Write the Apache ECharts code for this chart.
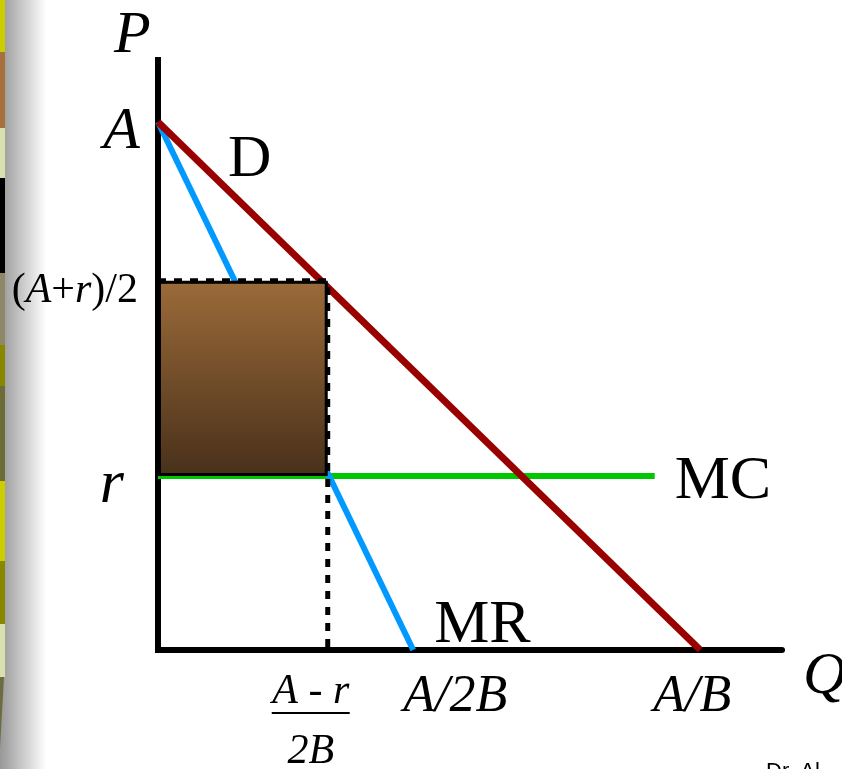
<!DOCTYPE html>
<html>
<head>
<meta charset="utf-8">
<script src="https://cdn.jsdelivr.net/npm/echarts@6/dist/echarts.min.js"></script>
<style>
  html, body { margin: 0; padding: 0; background: #fff; }
  #chart { width: 842px; height: 769px; }
</style>
</head>
<body>
<div id="chart"></div>
<script>
// values (axis units 0..100)
const priceLevels = [89.5, 62.6, 29.5];
const priceLabels = ['A', '(A+r)/2', 'r'];
const qtyLevels = [27.2, 40.9, 86.9];
const qtyLabels = ['(A-r)/2B', 'A/2B', 'A/B'];
const demand = [[0, 89.5], [86.9, 0]];
const marginalRevenue = [[0, 89.5], [40.9, 0]];
const marginalCost = [[0, 29.5], [79.6, 29.5]];
const profitBox = [[0, 62.6, 27.2, 29.5]];
const guide = [[0, 62.6], [27.2, 62.6], [27.2, 0]];

const SERIF = '"Liberation Serif", "Times New Roman", serif';

const chart = echarts.init(document.getElementById('chart'));

const yRich = {
  bi: { fontFamily: SERIF, fontStyle: 'italic', fontSize: 60, color: '#000' },
  ri: { fontFamily: SERIF, fontStyle: 'italic', fontSize: 62, color: '#000' },
  s: { fontFamily: SERIF, fontSize: 42, color: '#000' },
  si: { fontFamily: SERIF, fontStyle: 'italic', fontSize: 42, color: '#000' },
  g2: { width: 2, fontSize: 4 },
  g16: { width: 16, fontSize: 4 }
};
const yText = {
  'A': '{bi|A}',
  '(A+r)/2': '{s|(}{si|A}{s|+}{si|r}{s|)/2}{g2| }',
  'r': '{ri|r}{g16| }'
};

const xRich = {
  n: { fontFamily: SERIF, fontStyle: 'italic', fontSize: 42, lineHeight: 40, color: '#000' },
  d: { fontFamily: SERIF, fontStyle: 'italic', fontSize: 42, lineHeight: 76, color: '#000' },
  bar: { width: 78, height: 2, lineHeight: 2, fontSize: 1, backgroundColor: '#000' },
  gb: { width: 34, height: 2, lineHeight: 2, fontSize: 1 },
  g34: { width: 34, fontSize: 4 },
  g84: { width: 84, fontSize: 4 },
  g16: { width: 16, fontSize: 4 },
  i: { fontFamily: SERIF, fontStyle: 'italic', fontSize: 52, lineHeight: 50, color: '#000' },
  u: { fontFamily: SERIF, fontStyle: 'italic', fontSize: 52, lineHeight: 50, color: '#000' }
};
const xText = {
  '(A-r)/2B': '{n|A - r}{g34| }\n{bar| }{gb| }\n{d|2B}{g34| }',
  'A/2B': '{g84| }{i|A}{u|/2}{i|B}',
  'A/B': '{i|A}{u|/}{i|B}{g16| }'
};

function pick(levels, labels, v) {
  const k = levels.findIndex(l => Math.abs(l - v) < 1e-6);
  return k < 0 ? '' : labels[k];
}

// the fraction label sits on its own (invisible) axis so it never competes with A/2B
function quantityAxis(values, showLine) {
  return {
    type: 'value',
    position: 'bottom',
    min: 0,
    max: 100,
    axisLine: { show: showLine, onZero: false, lineStyle: { color: '#000', width: 6 } },
    axisTick: { show: false },
    splitLine: { show: false },
    axisLabel: {
      customValues: values,
      margin: 22,
      hideOverlap: false,
      formatter: v => xText[pick(qtyLevels, qtyLabels, v)] || '',
      rich: xRich
    }
  };
}

chart.setOption({
  animation: false,
  grid: { left: 158, top: 60, width: 624, height: 590, containLabel: false, outerBoundsMode: 'none' },
  xAxis: [
    quantityAxis(qtyLevels.slice(1), true),
    quantityAxis(qtyLevels.slice(0, 1), false)
  ],
  yAxis: {
    type: 'value',
    min: 0,
    max: 100,
    axisLine: { lineStyle: { color: '#000', width: 6, cap: 'square' } },
    axisTick: { show: false },
    splitLine: { show: false },
    axisLabel: {
      customValues: priceLevels,
      margin: 18,
      padding: [20, 0, 0, 0],
      hideOverlap: false,
      formatter: v => yText[pick(priceLevels, priceLabels, v)] || '',
      rich: yRich
    }
  },
  series: [
    {
      name: 'MC',
      type: 'line',
      data: marginalCost,
      showSymbol: false,
      z: 2,
      lineStyle: { color: '#00c800', width: 6 }
    },
    {
      name: 'MR',
      type: 'line',
      data: marginalRevenue,
      showSymbol: false,
      z: 2,
      lineStyle: { color: '#0099ff', width: 6 }
    },
    {
      name: 'D',
      type: 'line',
      data: demand,
      showSymbol: false,
      z: 2,
      lineStyle: { color: '#990000', width: 7 }
    },
    {
      name: 'profit',
      type: 'custom',
      z: 3,
      data: profitBox,
      encode: { x: [0, 2], y: [1, 3] },
      renderItem: function (params, api) {
        const p0 = api.coord([api.value(0), api.value(1)]);
        const p1 = api.coord([api.value(2), api.value(3)]);
        const lw = 3;
        return {
          type: 'rect',
          shape: {
            x: p0[0] + lw / 2,
            y: p0[1] + lw / 2,
            width: p1[0] - p0[0] - lw,
            height: p1[1] - p0[1] - lw
          },
          style: {
            fill: new echarts.graphic.LinearGradient(0, 0, 0, 1, [
              { offset: 0, color: '#9b6b39' },
              { offset: 1, color: '#48301a' }
            ]),
            stroke: '#000',
            lineWidth: lw
          }
        };
      }
    },
    {
      name: 'guide',
      type: 'line',
      data: guide,
      showSymbol: false,
      z: 4,
      lineStyle: { color: '#000', width: 5, type: [8, 8] }
    }
  ]
});

// text next to the curves, anchored to data points
function at(pt, dx, dy) {
  const p = chart.convertToPixel({ gridIndex: 0 }, pt);
  return [p[0] + dx, p[1] + dy];
}
function label(text, pt, dx, dy, font) {
  const p = at(pt, dx, dy);
  return {
    type: 'text',
    x: p[0],
    y: p[1],
    z: 10,
    style: { text, font, fill: '#000', textAlign: 'left', textVerticalAlign: 'middle', verticalAlign: 'middle' }
  };
}

// slide decoration on the left edge
const stripe = [
  [0, 52, '#cccc00'], [52, 128, '#a8703c'], [128, 178, '#d8e0b0'], [178, 273, '#000000'],
  [273, 345, '#8c8868'], [345, 386, '#888800'], [386, 481, '#6c6c38'], [481, 561, '#cccc00'],
  [561, 624, '#888800'], [624, 677, '#d8e0b0']
];
const deco = [{
  type: 'rect',
  shape: { x: 0, y: 0, width: 46, height: 769 },
  style: {
    fill: new echarts.graphic.LinearGradient(0, 0, 1, 0, [
      { offset: 0, color: '#989898' },
      { offset: 0.15, color: '#a6a6a6' },
      { offset: 1, color: '#ffffff' }
    ])
  },
  z: 0
}];
stripe.forEach(s => deco.push({
  type: 'rect', shape: { x: 0, y: s[0], width: 5, height: s[1] - s[0] }, style: { fill: s[2] }, z: 1
}));
deco.push({
  type: 'polygon', shape: { points: [[0, 677], [4, 677], [0, 748]] }, style: { fill: '#6c6c40' }, z: 1
});

const italic = 'italic 60px ' + SERIF;
const upright = '62px ' + SERIF;
chart.setOption({
  graphic: deco.concat([
    label('P', [0, 100], -44, -24, italic),
    label('Q', [100, 0], 21, 27, italic),
    label('D', demand[0], 70, 38, '60px ' + SERIF),
    label('MC', marginalCost[1], 20, 6, upright),
    label('MR', marginalRevenue[1], 21, -24, upright),
    {
      type: 'text', x: 766, y: 761, z: 10,
      style: { text: 'Dr. Al', font: '22px "Liberation Sans", sans-serif', fill: '#000' }
    }
  ])
});
</script>
</body>
</html>
